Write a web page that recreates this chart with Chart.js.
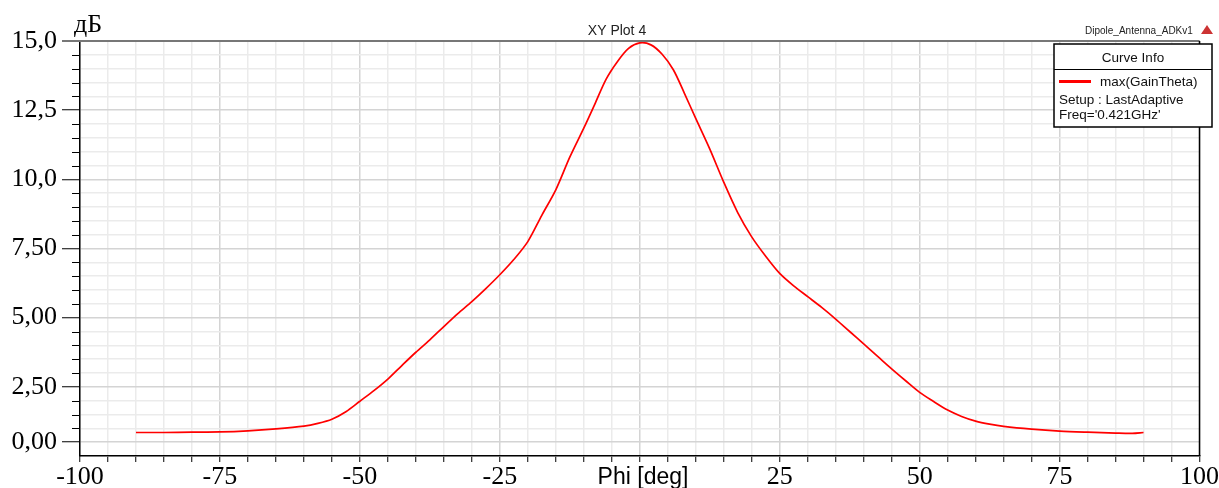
<!DOCTYPE html>
<html>
<head>
<meta charset="utf-8">
<script src="https://cdn.jsdelivr.net/npm/chart.js@4"></script>
<style>
  html, body { margin: 0; padding: 0; background: #fff; }
  canvas { display: block; }
</style>
</head>
<body>
<canvas id="xyPlot" width="1219" height="488"></canvas>
<script>
// data
const phiDeg = [-90, -85, -80, -75, -70, -65, -60, -57.5, -55, -52.5, -50, -47.5, -45, -42.5, -40,
    -37.5, -35, -32.5, -30, -27.5, -25, -22.5, -20, -17.5, -15, -12.5, -10, -8, -6, -4, -2, 0,
    2, 4, 6, 8, 10, 12.5, 15, 17.5, 20, 22.5, 25, 27.5, 30, 32.5, 35, 37.5, 40, 42.5, 45, 47.5,
    50, 52.5, 55, 57.5, 60, 62.5, 65, 70, 75, 80, 85, 88, 90];
const gainDb = [0.85, 0.85, 0.86, 0.87, 0.91, 0.98, 1.08, 1.18, 1.33, 1.6, 1.98, 2.36, 2.78, 3.27, 3.75,
    4.2, 4.68, 5.15, 5.58, 6.05, 6.55, 7.1, 7.75, 8.7, 9.62, 10.8, 11.85, 12.73, 13.62, 14.25, 14.73, 14.93,
    14.86, 14.52, 13.96, 13.1, 12.2, 11.1, 9.9, 8.8, 7.92, 7.22, 6.6, 6.15, 5.76, 5.37, 4.95, 4.5, 4.05, 3.6, 3.15, 2.72,
    2.3, 1.97, 1.66, 1.43, 1.26, 1.15, 1.07, 0.97, 0.9, 0.86, 0.83, 0.82, 0.85];

const yMajor = [0.5, 2.5, 5, 7.5, 10, 12.5, 15];
const yLabels = ["0,00", "2,50", "5,00", "7,50", "10,0", "12,5", "15,0"];
const xMajor = [-100, -75, -50, -25, 0, 25, 50, 75, 100];

const curveName = "max(GainTheta)";
const infoLines = ["Setup : LastAdaptive", "Freq='0.421GHz'"];

const SERIF = "'Liberation Serif', 'Times New Roman', serif";
const SANS = "'Liberation Sans', Arial, sans-serif";

function isYMajor(v) { return yMajor.some(m => Math.abs(m - v) < 1e-6); }
function isXMajor(v) { return xMajor.indexOf(v) >= 0; }

// extra decorations: borders, short ticks, titles, curve info box
const decor = {
    id: "decor",
    afterDraw(chart) {
        const c = chart.ctx;
        const a = chart.chartArea;
        const ys = chart.scales.y;
        c.save();

        // minor y ticks
        c.strokeStyle = "#000";
        c.lineWidth = 1;
        ys.ticks.forEach(t => {
            if (isYMajor(t.value) || t.value === 0) return;
            const py = Math.round(ys.getPixelForValue(t.value)) + 0.5;
            c.beginPath();
            c.moveTo(a.left - 8, py);
            c.lineTo(a.left, py);
            c.stroke();
        });

        // top border (grey) and right border
        c.strokeStyle = "#777";
        c.lineWidth = 2;
        c.beginPath();
        c.moveTo(a.left - 18, a.top);
        c.lineTo(a.right, a.top);
        c.stroke();
        c.strokeStyle = "#000";
        c.lineWidth = 1.5;
        c.beginPath();
        c.moveTo(a.right, a.top);
        c.lineTo(a.right, a.bottom);
        c.stroke();

        // unit label
        c.fillStyle = "#000";
        c.font = "26px " + SERIF;
        c.textAlign = "left";
        c.textBaseline = "alphabetic";
        c.fillText("дБ", 74, 32);

        // plot title
        c.fillStyle = "#222";
        c.font = "14px " + SANS;
        c.textAlign = "center";
        c.fillText("XY Plot 4", 617, 35);

        c.font = "10px " + SANS;
        c.textAlign = "left";
        c.fillText("Dipole_Antenna_ADKv1", 1085, 34);

        // little logo
        c.fillStyle = "#c33";
        c.beginPath();
        c.moveTo(1207, 25);
        c.lineTo(1201, 34);
        c.lineTo(1213, 34);
        c.closePath();
        c.fill();

        // curve info box
        const bx = 1054, by = 44, bw = 158, bh = 83;
        c.fillStyle = "#fff";
        c.fillRect(bx, by, bw, bh);
        c.strokeStyle = "#000";
        c.lineWidth = 1.5;
        c.strokeRect(bx, by, bw, bh);
        c.lineWidth = 1;
        c.beginPath();
        c.moveTo(bx, 69.5);
        c.lineTo(bx + bw, 69.5);
        c.stroke();

        c.fillStyle = "#111";
        c.font = "13.5px " + SANS;
        c.textAlign = "center";
        c.fillText("Curve Info", bx + bw / 2, 62);
        c.textAlign = "left";
        c.fillText(curveName, 1100, 86);
        c.fillText(infoLines[0], 1059, 104);
        c.fillText(infoLines[1], 1059, 119);

        c.strokeStyle = "#f00";
        c.lineWidth = 3;
        c.beginPath();
        c.moveTo(1059, 81.5);
        c.lineTo(1091, 81.5);
        c.stroke();

        // axis title
        c.fillStyle = "#000";
        c.font = "23px " + SANS;
        c.textAlign = "center";
        c.fillText("Phi [deg]", 643, 484);

        c.restore();
    }
};

const ctx = document.getElementById("xyPlot").getContext("2d");

const chart = new Chart(ctx, {
    type: "line",
    data: {
        datasets: [
            {
                label: curveName,
                data: phiDeg.map((p, i) => ({ x: p, y: gainDb[i] })),
                borderColor: "#ff0000",
                borderWidth: 1.7,
                pointRadius: 0,
                fill: false,
                tension: 0.3
            }
        ]
    },
    options: {
        responsive: false,
        animation: false,
        devicePixelRatio: 1,
        layout: { padding: { top: 41, right: 17, left: 0, bottom: 0 } },
        plugins: {
            legend: { display: false },
            tooltip: { enabled: false }
        },
        scales: {
            x: {
                type: "linear",
                min: -100,
                max: 100,
                afterBuildTicks: s => {
                    const t = [];
                    for (let v = -100; v <= 100; v += 5) t.push({ value: v });
                    s.ticks = t;
                },
                afterFit: s => { s.height = 32; },
                grid: {
                    color: c => isXMajor(c.tick.value) ? "#d4d4d4" : "#ebebeb",
                    lineWidth: 1.5,
                    tickColor: "#000",
                    tickLength: 6,
                    tickWidth: 1
                },
                border: { color: "#000", width: 1.5 },
                ticks: {
                    autoSkip: false,
                    maxRotation: 0,
                    padding: 0,
                    color: "#000",
                    font: { family: SERIF, size: 26 },
                    // HFSS leaves the 0 label out, the axis title sits there
                    callback: v => (isXMajor(v) && v !== 0) ? String(v) : ""
                },
                title: { display: false }
            },
            y: {
                type: "linear",
                min: 0,
                max: 15,
                afterBuildTicks: s => {
                    const t = [];
                    for (let k = 0; k <= 30; k++) t.push({ value: k * 0.5 });
                    s.ticks = t;
                },
                afterFit: s => { s.width = 80; },
                grid: {
                    color: c => isYMajor(c.tick.value) ? "#d4d4d4" : "#ebebeb",
                    lineWidth: 1.5,
                    tickColor: c => isYMajor(c.tick.value) ? "#000" : "rgba(0,0,0,0)",
                    tickLength: 18,
                    tickWidth: 1
                },
                border: { color: "#000", width: 1.5 },
                ticks: {
                    autoSkip: false,
                    padding: 5,
                    color: "#000",
                    font: { family: SERIF, size: 26 },
                    callback: v => {
                        const i = yMajor.findIndex(m => Math.abs(m - v) < 1e-6);
                        return i >= 0 ? yLabels[i] : "";
                    }
                }
            }
        }
    },
    plugins: [decor]
});
</script>
</body>
</html>
